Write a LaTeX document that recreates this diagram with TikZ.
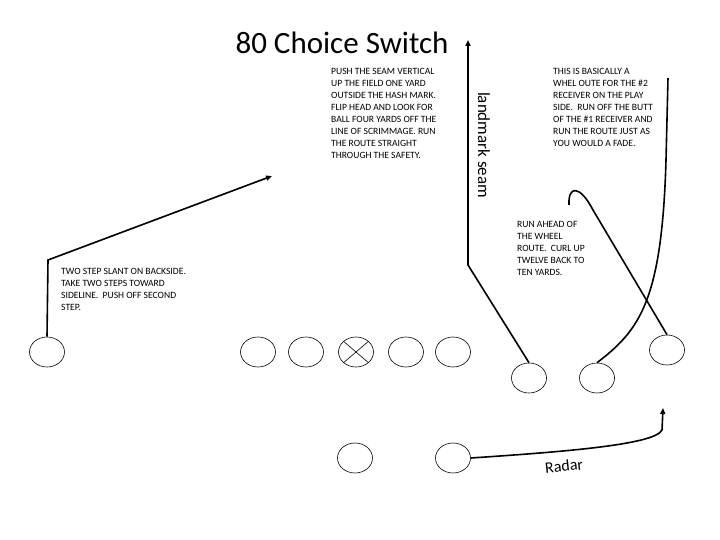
\documentclass[tikz,border=0pt]{standalone}
\usepackage{fontspec}
\setmainfont{Carlito}
\usetikzlibrary{shapes.geometric,arrows.meta}
\begin{document}
\begin{tikzpicture}[x=1pt,y=-1pt,
  player/.style={draw,ellipse,minimum width=35pt,minimum height=30pt,inner sep=0pt,line width=0.6pt},
  route/.style={line width=1.6pt},
  arr/.style={route,-{Triangle[length=6pt,width=5pt]}},
  note/.style={align=left,anchor=north west,font=\fontsize{9.6}{12}\selectfont,inner sep=0pt}]
\useasboundingbox (0,0) rectangle (720,540);
\node (title) at (342,43) {\fontsize{31}{34}\selectfont 80 Choice Switch};
\node[player] (lw) at (47,352) {};
\node[player] (l1) at (258,352) {};
\node[player] (l2) at (306,352) {};
\node[player] (c) at (356,352) {};
\node[player] (l4) at (406,352) {};
\node[player] (l5) at (453,352) {};
\node[player] (r2) at (529,378) {};
\node[player] (r3) at (597,378) {};
\node[player] (r1) at (667,350) {};
\node[player] (qb) at (355,458) {};
\node[player] (rb) at (453,458) {};
\draw[line width=0.6pt] (c.north west)--(c.south east) (c.north east)--(c.south west);
% slant
\coordinate (s1) at (48,260);
\coordinate (s2) at (272,176);
\draw[arr] (lw.north) -- (s1) -- (s2);
% seam
\coordinate (m1) at (468,265);
\coordinate (m2) at (468,40);
\draw[arr] (r2.north) -- (m1) -- (m2);
\node[rotate=-90,font=\fontsize{17}{19}\selectfont] (lm) at (484,145) {landmark seam};
% wheel
\coordinate (w1) at (666,160);
\coordinate (w2) at (668,78);
\draw[route] (r3.north) .. controls (640,330) and (662,300) .. (w1) -- (w2);
% curl
\coordinate (k1) at (569,205);
\draw[route] (r1.north) -- (593,210) .. controls (580,185) and (568,185) .. (k1);
% radar
\coordinate (d1) at (663,408);
\draw[arr] (rb.east) .. controls (560,452) and (655,445) .. (662,430) -- (d1);
\node[rotate=6,font=\fontsize{16}{18}\selectfont] (radar) at (564,466) {Radar};
% notes
\node[note] (n1) at (331,68) {PUSH THE SEAM VERTICAL\\UP THE FIELD ONE YARD\\OUTSIDE THE HASH MARK.\\FLIP HEAD AND LOOK FOR\\BALL FOUR YARDS OFF THE\\LINE OF SCRIMMAGE. RUN\\THE ROUTE STRAIGHT\\THROUGH THE SAFETY.};
\node[note] (n2) at (553,68) {THIS IS BASICALLY A\\WHEL OUTE FOR THE \#2\\RECEIVER ON THE PLAY\\SIDE.\ \ RUN OFF THE BUTT\\OF THE \#1 RECEIVER AND\\RUN THE ROUTE JUST AS\\YOU WOULD A FADE.};
\node[note] (n3) at (517,221) {RUN AHEAD OF\\THE WHEEL\\ROUTE.\ \ CURL UP\\TWELVE BACK TO\\TEN YARDS.};
\node[note] (n4) at (61,268) {TWO STEP SLANT ON BACKSIDE.\\TAKE TWO STEPS TOWARD\\SIDELINE.\ \ PUSH OFF SECOND\\STEP.};
\end{tikzpicture}
\end{document}
